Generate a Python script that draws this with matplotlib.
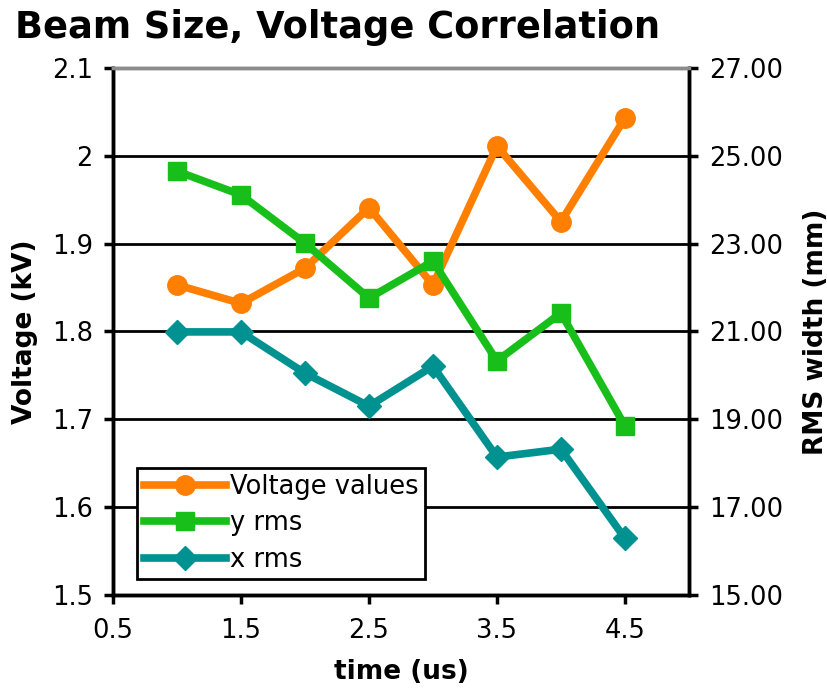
import numpy as np
import matplotlib.pyplot as plt
from matplotlib.ticker import FormatStrFormatter, FuncFormatter

time_us = [1.0, 1.5, 2.0, 2.5, 3.0, 3.5, 4.0, 4.5]
voltage = [1.853, 1.832, 1.872, 1.941, 1.853, 2.011, 1.925, 2.043]
y_rms = [24.65, 24.11, 23.01, 21.76, 22.60, 20.33, 21.42, 18.85]
x_rms = [20.99, 20.99, 20.05, 19.30, 20.21, 18.14, 18.32, 16.29]

orange = '#ff7f00'
green = '#18bf1a'
teal = '#009191'

plt.rcParams['font.family'] = 'DejaVu Sans'

fig = plt.figure(figsize=(8.28, 6.91), dpi=100)
ax = fig.add_axes([0.1365, 0.139, 0.6955, 0.7626])
ax2 = ax.twinx()

l1, = ax.plot(time_us, voltage, color=orange, lw=5.5, marker='o', ms=14, label='Voltage values')
l2, = ax2.plot(time_us, y_rms, color=green, lw=5.5, marker='s', ms=13, label='y rms')
l3, = ax2.plot(time_us, x_rms, color=teal, lw=5.5, marker='D', ms=12, label='x rms')

ax.set_xlim(0.5, 5.0)
ax.set_ylim(1.5, 2.1)
ax2.set_ylim(15, 27)
ax.set_xticks(np.arange(0.5, 5.0, 1.0))
ax.set_yticks(np.arange(1.5, 2.15, 0.1))
ax2.set_yticks(np.arange(15, 28, 2))
ax.yaxis.set_major_formatter(FuncFormatter(lambda v, p: '%g' % round(v, 2)))
ax2.yaxis.set_major_formatter(FormatStrFormatter('%.2f'))

for y in np.arange(1.6, 2.05, 0.1):
    ax.axhline(y, color='black', lw=2, zorder=0)

for a in (ax, ax2):
    for s in ('left', 'right', 'bottom'):
        a.spines[s].set_linewidth(2.5)
        a.spines[s].set_color('black')
    a.spines['top'].set_color('#8c8c8c')
    a.spines['top'].set_linewidth(2.5)
    a.tick_params(labelsize=18.5, width=2.5, length=6.5, direction='out', pad=8)
ax.tick_params(axis='x', pad=10)

ax.set_xlabel('time (us)', fontsize=19, fontweight='bold', labelpad=11)
ax.set_ylabel('Voltage (kV)', fontsize=19, fontweight='bold', labelpad=10)
ax2.set_ylabel('RMS width (mm)', fontsize=19, fontweight='bold', labelpad=14)

leg = ax2.legend(handles=[l1, l2, l3], loc='lower left', bbox_to_anchor=(0.042, 0.03),
                 fontsize=18.5, frameon=True, fancybox=False, edgecolor='black',
                 handlelength=3.2, handletextpad=0.15, borderpad=0.25, labelspacing=0.4,
                 borderaxespad=0)
leg.get_frame().set_linewidth(2)
leg.get_frame().set_alpha(1)

fig.text(0.018, 0.945, 'Beam Size, Voltage Correlation', fontsize=26.5, fontweight='bold')

plt.savefig('out.png', dpi=100)
